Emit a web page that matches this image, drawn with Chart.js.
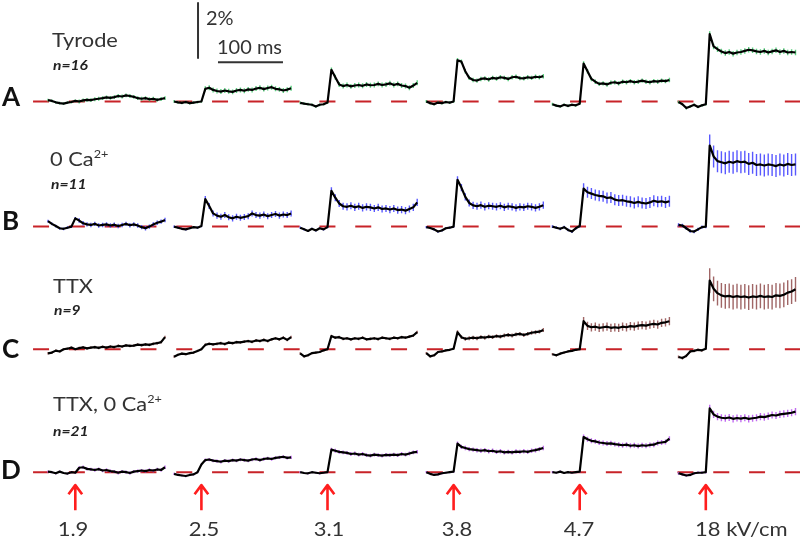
<!DOCTYPE html>
<html><head><meta charset="utf-8">
<script src="https://cdn.jsdelivr.net/npm/chart.js@4"></script>
<style>
body{margin:0;background:#fff;}
#wrap{position:relative;width:800px;height:540px;font-family:Lato,"Open Sans",sans-serif;color:#333;overflow:hidden;}
canvas{position:absolute;left:0;top:0;}
.t{position:absolute;line-height:1;white-space:nowrap;transform-origin:0 0;}
.lab{font-size:18.5px;transform:scaleX(1.18);}
.sc{font-size:18.5px;transform:scaleX(1.08);}
.n{font-size:13px;font-weight:bold;font-style:italic;color:#222;transform:scaleX(1.2);}
.row{font-size:26px;font-weight:bold;color:#111;}
.stim{font-size:20px;transform-origin:50% 0;transform:translateX(-50%) scaleX(1.1);}
.stim2{font-size:20px;transform:scaleX(1.1);}
sup{font-size:58%;vertical-align:top;position:relative;top:-0.05em;}
</style></head><body>
<div id="wrap">
<canvas id="c" width="800" height="540"></canvas>
<div class="t lab" style="left:52px;top:31px">Tyrode</div>
<div class="t n" style="left:53px;top:59px">n=16</div>
<div class="t lab" style="left:50px;top:150px">0 Ca<sup>2+</sup></div>
<div class="t n" style="left:51px;top:178px">n=11</div>
<div class="t lab" style="left:53px;top:277px">TTX</div>
<div class="t n" style="left:54px;top:304px">n=9</div>
<div class="t lab" style="left:53px;top:395px">TTX, 0 Ca<sup>2+</sup></div>
<div class="t n" style="left:53px;top:425px">n=21</div>
<div class="t row" style="left:2px;top:83px">A</div>
<div class="t row" style="left:2px;top:207px">B</div>
<div class="t row" style="left:2px;top:335px">C</div>
<div class="t row" style="left:1px;top:456px">D</div>
<div class="t sc" style="left:206px;top:9px">2%</div>
<div class="t sc" style="left:217px;top:38px">100 ms</div>
<div class="t stim" style="left:73px;top:518px">1.9</div>
<div class="t stim" style="left:204px;top:518px">2.5</div>
<div class="t stim" style="left:329px;top:518px">3.1</div>
<div class="t stim" style="left:457px;top:518px">3.8</div>
<div class="t stim" style="left:579px;top:518px">4.7</div>
<div class="t stim2" style="left:695px;top:518px">18 kV/cm</div>
</div>
<script>
// ---- data (ΔF/F, % relative to baseline), sampled every 6 ms, stimulus at 42 ms ----
const fields = ['1.9', '2.5', '3.1', '3.8', '4.7', '18'];        // kV/cm
const conditions = ['Tyrode', '0 Ca2+', 'TTX', 'TTX, 0 Ca2+'];
const nCells = [16, 11, 9, 21];

const A1 = [0.05,0.02,-0.03,-0.06,-0.08,-0.04,-0.02,0.02,0.0,0.04,0.06,0.05,0.08,0.1,0.12,0.15,0.13,0.16,0.2,0.18,0.22,0.2,0.17,0.12,0.1,0.12,0.08,0.1,0.06,0.09,0.12];
const A2 = [0.0,-0.03,-0.05,-0.02,-0.06,-0.04,-0.02,0.0,0.46,0.5,0.42,0.38,0.36,0.4,0.37,0.35,0.4,0.42,0.39,0.44,0.42,0.47,0.5,0.45,0.49,0.52,0.46,0.44,0.4,0.43,0.48];
const A3 = [-0.05,-0.08,-0.1,-0.12,-0.18,-0.12,-0.1,-0.04,1.15,0.88,0.62,0.56,0.6,0.55,0.58,0.6,0.57,0.62,0.59,0.6,0.64,0.6,0.62,0.66,0.6,0.64,0.58,0.56,0.5,0.58,0.68];
const A4 = [0.0,-0.06,-0.1,-0.04,-0.06,-0.02,-0.04,0.0,1.5,1.45,1.1,0.86,0.78,0.76,0.82,0.84,0.8,0.86,0.83,0.88,0.86,0.82,0.88,0.9,0.85,0.84,0.88,0.86,0.9,0.88,0.92];
const A5 = [-0.1,-0.15,-0.18,-0.12,-0.16,-0.12,-0.14,-0.08,1.38,1.1,0.82,0.72,0.64,0.66,0.62,0.68,0.7,0.66,0.72,0.7,0.74,0.7,0.72,0.76,0.72,0.7,0.74,0.72,0.76,0.74,0.78];
const A6 = [-0.02,-0.1,-0.24,-0.18,-0.12,-0.2,-0.14,-0.1,2.45,2.0,1.9,1.82,1.76,1.8,1.74,1.78,1.8,1.84,1.88,1.86,1.82,1.8,1.84,1.78,1.82,1.86,1.8,1.84,1.78,1.8,1.78];

const B1 = [0.2,0.1,0.02,-0.06,-0.08,-0.04,0.0,0.3,0.22,0.12,0.08,0.06,0.1,0.04,0.06,0.08,0.04,0.07,0.02,0.06,0.1,0.05,0.08,0.04,-0.02,-0.06,0.0,0.08,0.14,0.18,0.24];
const B2 = [0.0,-0.04,-0.08,-0.1,-0.06,-0.02,-0.04,0.02,1.0,0.75,0.48,0.4,0.36,0.42,0.34,0.3,0.36,0.32,0.35,0.38,0.48,0.42,0.4,0.44,0.38,0.42,0.46,0.4,0.44,0.42,0.48];
const B3 = [-0.04,-0.1,-0.16,-0.08,-0.14,-0.06,-0.1,-0.02,1.3,1.05,0.84,0.74,0.72,0.76,0.7,0.74,0.68,0.72,0.7,0.66,0.7,0.64,0.66,0.62,0.66,0.6,0.62,0.58,0.64,0.7,0.88];
const B4 = [-0.02,-0.05,-0.1,-0.18,-0.14,-0.06,-0.04,0.0,1.7,1.42,1.08,0.86,0.77,0.74,0.78,0.72,0.76,0.74,0.72,0.76,0.7,0.74,0.72,0.68,0.72,0.7,0.74,0.72,0.68,0.72,0.78];
const B5 = [0.0,-0.04,-0.08,-0.02,-0.12,-0.18,-0.06,0.02,1.38,1.25,1.2,1.15,1.12,1.1,1.04,1.06,0.98,0.95,0.96,0.92,0.9,0.86,0.9,0.86,0.84,0.88,0.94,0.9,0.92,0.88,0.92];
const B6 = [0.06,0.04,-0.06,-0.16,-0.18,-0.1,-0.02,0.0,2.95,2.55,2.38,2.34,2.3,2.36,2.32,2.38,2.34,2.36,2.28,2.32,2.24,2.26,2.22,2.26,2.24,2.2,2.26,2.22,2.28,2.24,2.26];

const C1 = [-0.15,-0.12,-0.05,-0.08,0.0,0.02,0.06,0.0,0.04,0.07,0.03,0.06,0.08,0.05,0.09,0.06,0.1,0.08,0.12,0.1,0.14,0.12,0.13,0.17,0.15,0.18,0.16,0.2,0.22,0.26,0.44];
const C2 = [-0.27,-0.2,-0.16,-0.18,-0.14,-0.12,-0.06,0.0,0.16,0.2,0.18,0.2,0.22,0.19,0.24,0.22,0.26,0.25,0.28,0.3,0.27,0.32,0.3,0.34,0.3,0.36,0.4,0.36,0.42,0.34,0.44];
const C3 = [-0.15,-0.26,-0.22,-0.14,-0.12,-0.1,-0.04,0.0,0.48,0.42,0.44,0.38,0.4,0.36,0.4,0.38,0.42,0.36,0.38,0.4,0.37,0.42,0.4,0.38,0.42,0.4,0.44,0.42,0.46,0.5,0.62];
const C4 = [-0.14,-0.26,-0.22,-0.1,-0.08,-0.04,-0.02,0.02,0.62,0.44,0.38,0.4,0.42,0.4,0.44,0.42,0.46,0.44,0.48,0.46,0.5,0.52,0.5,0.54,0.56,0.52,0.56,0.6,0.62,0.64,0.7];
const C5 = [-0.18,-0.22,-0.16,-0.12,-0.08,-0.06,-0.02,0.0,1.02,0.85,0.8,0.82,0.78,0.8,0.82,0.78,0.8,0.78,0.82,0.8,0.84,0.82,0.86,0.88,0.86,0.9,0.92,0.9,0.96,0.98,1.02];
const C6 = [-0.28,-0.32,-0.24,-0.08,-0.06,-0.02,-0.04,0.02,2.5,2.2,2.04,1.96,1.92,1.94,1.9,1.93,1.9,1.92,1.88,1.92,1.9,1.94,1.9,1.92,1.9,1.96,1.94,1.98,2.06,2.1,2.18];

const D1 = [0.02,0.0,-0.04,0.02,-0.03,-0.05,0.0,-0.02,0.16,0.18,0.12,0.1,0.08,0.11,0.06,0.08,0.04,0.02,-0.02,0.02,0.0,-0.03,0.02,0.04,0.06,0.04,0.08,0.06,0.1,0.08,0.18];
const D2 = [-0.06,-0.1,-0.12,-0.14,-0.1,-0.08,0.0,0.28,0.44,0.46,0.42,0.4,0.38,0.42,0.4,0.44,0.42,0.46,0.44,0.42,0.46,0.48,0.44,0.48,0.5,0.48,0.52,0.54,0.56,0.52,0.54];
const D3 = [0.0,-0.03,-0.04,0.0,-0.02,-0.04,-0.02,0.0,0.82,0.78,0.74,0.72,0.7,0.66,0.68,0.64,0.66,0.62,0.6,0.64,0.62,0.6,0.63,0.62,0.64,0.62,0.66,0.64,0.68,0.72,0.74];
const D4 = [0.0,-0.06,-0.1,-0.08,-0.04,-0.02,0.0,0.02,1.04,0.92,0.88,0.84,0.82,0.8,0.78,0.8,0.76,0.78,0.74,0.76,0.72,0.74,0.72,0.75,0.74,0.76,0.74,0.78,0.8,0.84,0.88];
const D5 = [0.0,-0.02,0.02,-0.03,0.0,-0.02,0.0,0.02,1.28,1.2,1.14,1.12,1.08,1.06,1.04,1.05,1.02,1.0,0.98,1.0,0.96,0.98,0.95,0.98,0.96,0.99,1.0,1.06,1.08,1.1,1.22];
const D6 = [-0.04,-0.08,-0.12,-0.1,-0.04,-0.02,-0.02,0.0,2.32,2.1,2.02,1.98,1.96,1.99,1.94,1.97,1.95,1.98,1.94,1.96,1.98,2.02,2.0,2.04,2.08,2.06,2.1,2.12,2.14,2.16,2.2];

// SEM [before stimulus, after stimulus], %
const semA = [[0.05,0.07],[0.05,0.09],[0.05,0.09],[0.05,0.08],[0.05,0.08],[0.05,0.1]];
const semB = [[0.05,0.08],[0.04,0.11],[0.04,0.13],[0.04,0.13],[0.05,0.2],[0.06,0.4]];
const semC = [[0.04,0.05],[0.04,0.05],[0.04,0.05],[0.04,0.07],[0.04,0.15],[0.05,0.45]];
const semD = [[0.04,0.06],[0.04,0.06],[0.04,0.07],[0.04,0.08],[0.04,0.09],[0.05,0.13]];

const traces = [[A1,A2,A3,A4,A5,A6],[B1,B2,B3,B4,B5,B6],[C1,C2,C3,C4,C5,C6],[D1,D2,D3,D4,D5,D6]];
const sems = [semA, semB, semC, semD];

// ---- layout (chart units: ms and %) ----
const dt = 6, stimT = 42, panelGap = 194;
const rowBase = [-3.69, -8.24, -12.70, -17.17];
const semColors = ['rgba(80,205,120,0.95)', 'rgba(80,80,255,0.95)', 'rgba(150,85,85,0.9)', 'rgba(190,100,240,0.95)'];
const X_MIN = -73.85, X_MAX = 1156.92, Y_MIN = -19.636, Y_MAX = 0;

const datasets = [];
traces.forEach((row, r) => {
  row.forEach((vals, p) => {
    const t0 = p * panelGap, off = rowBase[r], s = sems[r][p];
    datasets.push({
      data: vals.map((v, i) => ({x: t0 + i * dt, y: off + v})),
      borderColor: '#000', borderWidth: 2.2, order: 0, pointRadius: 0
    });
    const eb = [];
    vals.forEach((v, i) => {
      const e = i * dt <= stimT ? s[0] : s[1];
      const x = t0 + i * dt;
      eb.push({x, y: off + v - e}, {x, y: off + v + e}, {x, y: null});
    });
    datasets.push({data: eb, borderColor: semColors[r], borderWidth: 1.4, order: 1, pointRadius: 0});
  });
  datasets.push({
    data: [{x: -23, y: rowBase[r]}, {x: X_MAX, y: rowBase[r]}],
    borderColor: 'rgb(200,35,40)', borderWidth: 2, borderDash: [16, 19.8], order: 2, pointRadius: 0
  });
});
// stimulus arrows
const aTop = -17.64, aBot = -18.55, aWing = -17.97, aHalf = 10.5;
fields.forEach((f, p) => {
  const x = p * panelGap + stimT;
  datasets.push({
    data: [{x, y: aBot}, {x, y: aTop}, {x, y: null}, {x: x - aHalf, y: aWing}, {x, y: aTop}, {x: x + aHalf, y: aWing}],
    borderColor: 'rgb(255,30,30)', borderWidth: 2.6, order: 0, pointRadius: 0
  });
});
// scale bars: 2 % vertical, 100 ms horizontal
datasets.push({data: [{x: 230.8, y: -0.11}, {x: 230.8, y: -2.11}], borderColor: '#333', borderWidth: 2, order: 0, pointRadius: 0});
datasets.push({data: [{x: 261.5, y: -2.26}, {x: 361.5, y: -2.26}], borderColor: '#333', borderWidth: 2, order: 0, pointRadius: 0});

new Chart(document.getElementById('c'), {
  type: 'scatter',
  data: {datasets: datasets.map(d => Object.assign({showLine: true, fill: false, tension: 0, spanGaps: false, clip: false}, d))},
  options: {
    responsive: false, animation: false, devicePixelRatio: 1,
    layout: {padding: 0},
    plugins: {legend: {display: false}, tooltip: {enabled: false}},
    scales: {
      x: {type: 'linear', min: X_MIN, max: X_MAX, display: false},
      y: {type: 'linear', min: Y_MIN, max: Y_MAX, display: false}
    },
    elements: {point: {radius: 0}, line: {borderCapStyle: 'butt', borderJoinStyle: 'round'}}
  }
});
</script>
</body></html>
